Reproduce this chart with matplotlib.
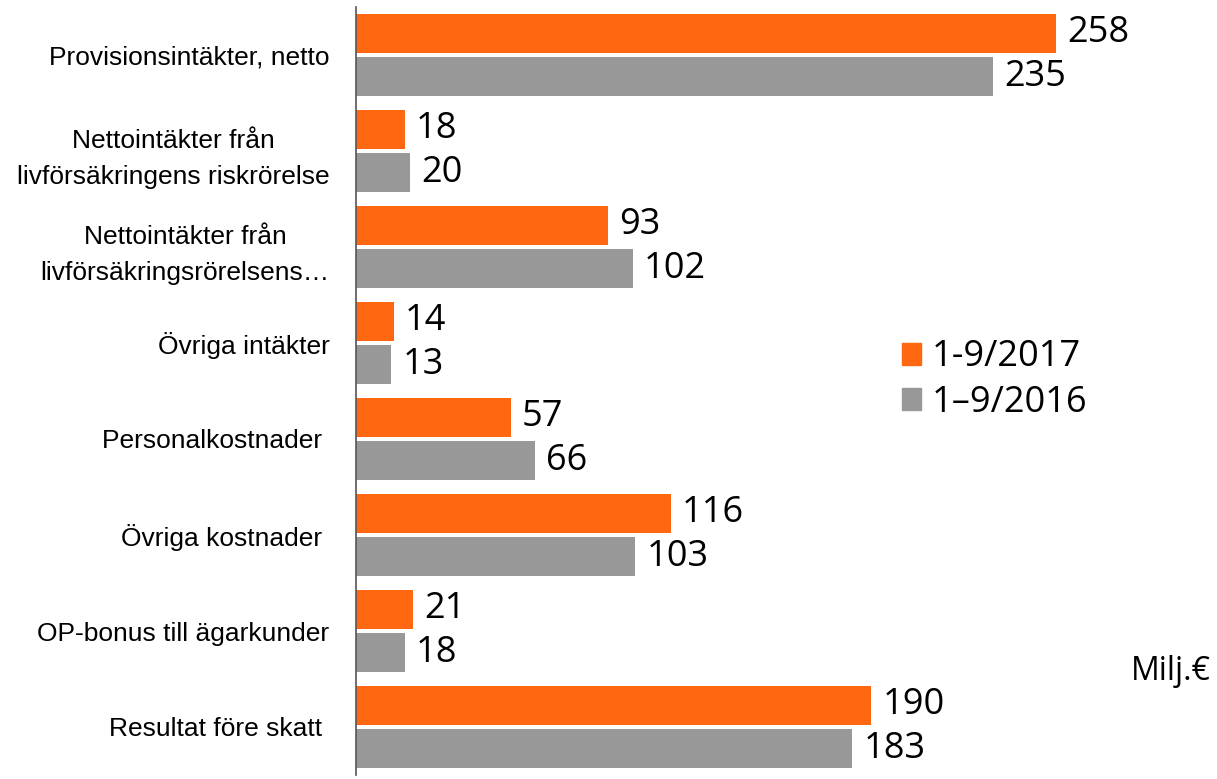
import numpy as np
import matplotlib.pyplot as plt
from matplotlib.patches import Patch

categories = [
    'Provisionsintäkter, netto',
    'Nettointäkter från\nlivförsäkringens riskrörelse',
    'Nettointäkter från\nlivförsäkringsrörelsens…',
    'Övriga intäkter',
    'Personalkostnader ',
    'Övriga kostnader ',
    'OP-bonus till ägarkunder',
    'Resultat före skatt ',
]
values_2017 = [258, 18, 93, 14, 57, 116, 21, 190]
values_2016 = [235, 20, 102, 13, 66, 103, 18, 183]
series_names = ['1-9/2017', '1–9/2016']

orange = '#FF6811'
grey = '#989898'

fig = plt.figure(figsize=(12.17, 7.79), dpi=100)
ax = fig.add_axes([356 / 1217, 4 / 779, 773 / 1217, 768 / 779])

y = np.arange(len(categories))
h = 0.4
off = 0.225
b1 = ax.barh(y - off, values_2017, height=h, color=orange)
b2 = ax.barh(y + off, values_2016, height=h, color=grey)

for bars, vals in [(b1, values_2017), (b2, values_2016)]:
    for bar, v in zip(bars, vals):
        ax.annotate(str(v), (bar.get_width(), bar.get_y() + bar.get_height() / 2),
                    xytext=(8, 0), textcoords='offset points',
                    ha='left', va='center', fontsize=26, family='Open Sans')

ax.set_xlim(0, 285)
ax.set_ylim(len(categories) - 0.5, -0.5)
ax.set_yticks(y)
ax.set_yticklabels(categories, fontsize=19, family='Liberation Sans',
                   multialignment='center', linespacing=1.6)
ax.tick_params(axis='y', length=0, pad=19)
ax.set_xticks([])
for s in ['top', 'right', 'bottom']:
    ax.spines[s].set_visible(False)
ax.spines['left'].set_color('#555555')
ax.spines['left'].set_linewidth(1.2)

handles = [Patch(color=orange), Patch(color=grey)]
fig.legend(handles, series_names, loc='upper left',
           bbox_to_anchor=(869 / 1217, 1 - 307 / 779), frameon=False,
           prop={'family': 'Open Sans', 'size': 26},
           handlelength=0.55, handleheight=0.55, handletextpad=0.3,
           labelspacing=0.25)

fig.text(1211 / 1217, 1 - 671 / 779, 'Milj.€', ha='right', va='center',
         fontsize=23, family='Open Sans')

fig.savefig('out.png', dpi=100)
